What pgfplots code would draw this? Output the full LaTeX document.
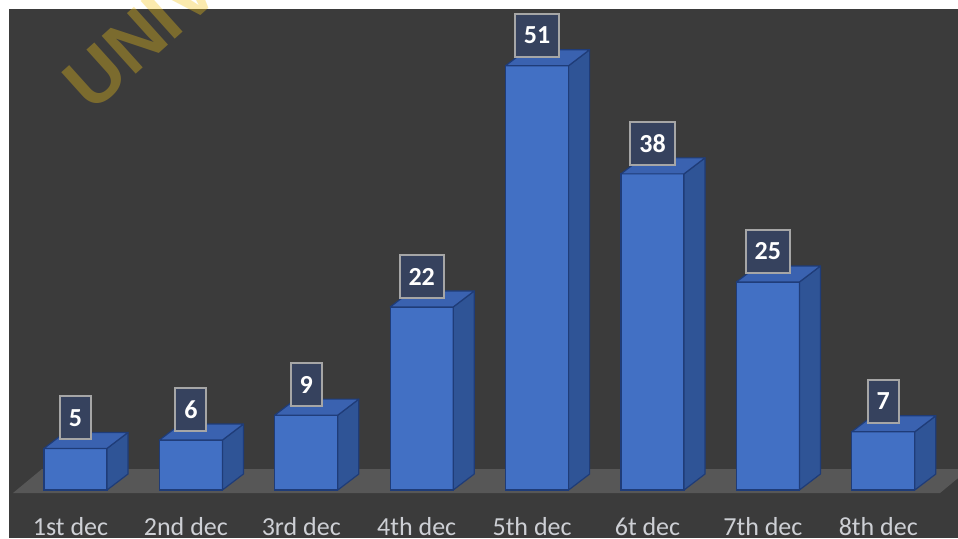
\documentclass[border=0pt]{standalone}
\usepackage{pgfplots}
\pgfplotsset{compat=1.18}
\usepackage{fontspec}
\setmainfont{Carlito}
\newfontfamily\wmfont{Liberation Sans}
\definecolor{bgc}{HTML}{3B3B3B}
\definecolor{floorc}{HTML}{575757}
\definecolor{frontc}{HTML}{4270C4}
\definecolor{topc}{HTML}{3A62B0}
\definecolor{sidec}{HTML}{2F5496}
\definecolor{edgec}{HTML}{1F3C78}
\definecolor{labfill}{HTML}{36425E}
\definecolor{labdraw}{HTML}{A6A6A6}
\definecolor{tickc}{HTML}{CDCFD4}
\definecolor{wmc}{HTML}{F5C518}
\pgfdeclareplotmark{emptymark}{}
\pgfplotstableread{
x h
0 5
1 6
2 9
3 22
4 51
5 38
6 25
7 7
}\datatab
\begin{document}
\begin{tikzpicture}
\path[use as bounding box] (0,0) rectangle (479pt,-269pt);
\begin{scope}
\clip (0,0) rectangle (479pt,-269pt);
\fill[white] (0,0) rectangle (479pt,-269pt);
\fill[bgc] (4.5pt,-4.5pt) rectangle (479pt,-269pt);
\fill[floorc] (6.5pt,-246.5pt) -- (470pt,-246.5pt) -- (484.5pt,-234.5pt) -- (21pt,-234.5pt) -- cycle;
\node[rotate=42, anchor=base west, text=wmc, opacity=0.35, inner sep=0pt,
  font=\wmfont\bfseries\fontsize{37}{37}\selectfont] at (46pt,-57pt) {UNIV};
\begin{axis}[
  at={(8.9pt,-245pt)}, anchor=south west, scale only axis,
  width=461.6pt, height=237.12pt,
  xmin=-0.5, xmax=7.5, ymin=0, ymax=57,
  clip=false, axis line style={draw=none},
  ytick=\empty, xtick={0,...,7}, major tick length=0pt,
  xticklabels={1st dec, 2nd dec, 3rd dec, 4th dec, 5th dec, 6t dec, 7th dec, 8th dec},
  xticklabel style={anchor=base, inner sep=0pt, yshift=-22.7pt, xshift=-2.5pt, text=tickc, font=\fontsize{13}{15}\selectfont},
  /pgf/number format/assume math mode=true,
]
\addplot[only marks, scatter, mark=emptymark,
  visualization depends on={rawy \as \hval},
  scatter/@pre marker code/.code={%
    \pgfmathsetlengthmacro\hh{-\hval*4.16pt}%
    \pgfmathsetlengthmacro\hb{8pt-\hval*4.16pt}%
    \filldraw[fill=sidec, draw=edgec, line width=0.6pt, line join=round]
      (15.75pt,0pt) -- (26.25pt,8pt) -- (26.25pt,\hb) -- (15.75pt,\hh) -- cycle;
    \filldraw[fill=topc, draw=edgec, line width=0.6pt, line join=round]
      (-15.75pt,0pt) -- (15.75pt,0pt) -- (26.25pt,8pt) -- (-5.25pt,8pt) -- cycle;
  },
  scatter/@post marker code/.code={},
] table[x=x, y=h] {\datatab};
\addplot[ybar, bar width=31.5pt, bar shift=0pt, fill=frontc, draw=edgec, line width=0.6pt,
  nodes near coords,
  every node near coord/.style={anchor=south, yshift=4pt, fill=labfill, draw=labdraw,
    line width=1pt, text=white, minimum height=21.5pt, inner xsep=4.5pt,
    font=\bfseries\fontsize{13}{15}\selectfont},
] table[x=x, y=h] {\datatab};
\end{axis}
\end{scope}
\end{tikzpicture}
\end{document}
